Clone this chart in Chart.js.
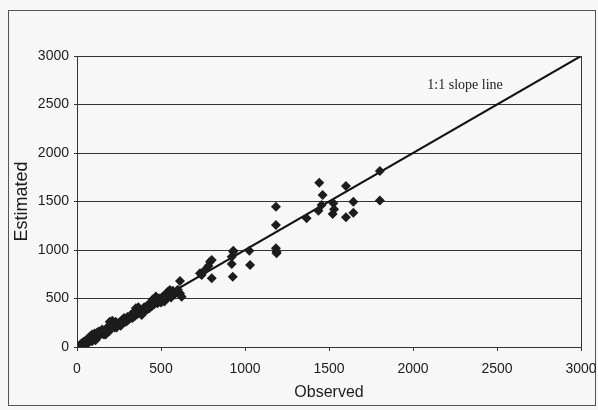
<!DOCTYPE html>
<html>
<head>
<meta charset="utf-8">
<script src="https://cdn.jsdelivr.net/npm/chart.js@4/dist/chart.umd.min.js"></script>
<style>
  html, body { margin: 0; padding: 0; background: #f7f7f7; }
  #wrap { position: relative; width: 598px; height: 410px; }
</style>
</head>
<body>
<div id="wrap"><canvas id="c" width="598" height="410"></canvas></div>
<script>
// Observed vs. estimated values
const observed = [
  20, 30, 35, 40, 45, 50, 55, 60, 65, 70, 75, 80, 85, 90, 95, 100, 105, 110, 115, 120,
  130, 140, 150, 160, 170, 180, 190, 200, 205, 210, 220, 225, 230, 240, 250, 260, 270, 280, 290, 300,
  310, 320, 330, 340, 345, 350, 355, 360, 370, 380, 390, 400, 410, 420, 430, 440, 445, 450, 460, 470,
  480, 490, 500, 510, 520, 530, 540, 550, 560, 570, 580, 524, 553, 613, 613, 623,
  60, 90, 110, 130, 150, 170, 195, 215, 235, 265, 300, 320, 350, 365, 385, 420, 455, 470, 500, 540, 560, 580, 600,
  732, 742, 762, 782, 792, 802, 802, 921, 921, 927, 930, 930, 1026, 1030,
  1184, 1184, 1184, 1188, 1188, 1367, 1437, 1442, 1456, 1462, 1522, 1526, 1530, 1601, 1601, 1645, 1645, 1803, 1803
];
const estimated = [
  25, 40, 20, 55, 35, 60, 45, 80, 50, 95, 60, 110, 70, 130, 100, 85, 140, 120, 95, 150,
  110, 160, 140, 130, 175, 200, 160, 240, 210, 270, 250, 200, 260, 230, 250, 220, 280, 300, 260, 310,
  290, 330, 300, 360, 320, 400, 380, 340, 390, 360, 370, 410, 380, 430, 400, 460, 420, 490, 440, 470,
  450, 500, 480, 520, 470, 540, 510, 560, 530, 580, 540, 502, 588, 680, 553, 519,
  30, 60, 70, 160, 180, 130, 260, 230, 200, 260, 270, 300, 360, 410, 330, 390, 470, 520, 460, 570, 510, 560, 590,
  760, 742, 794, 835, 880, 897, 708, 931, 856, 725, 993, 982, 993, 845,
  1447, 1258, 1017, 966, 982, 1327, 1405, 1694, 1464, 1567, 1371, 1481, 1419, 1660, 1337, 1498, 1385, 1815, 1510
];
// 1:1 reference line endpoints
const slopeX = [0, 3000];
const slopeY = [0, 3000];
const xTicks = [0, 500, 1000, 1500, 2000, 2500, 3000];
const yTicks = [0, 500, 1000, 1500, 2000, 2500, 3000];
const slopeLabel = '1:1 slope line';

const ink = '#1c1c1c';
const font = "'Liberation Sans', Arial, sans-serif";

const framePlugin = {
  id: 'frame',
  beforeDraw(chart) {
    const ctx = chart.ctx;
    ctx.save();
    ctx.fillStyle = '#f7f7f7';
    ctx.fillRect(0, 0, chart.width, chart.height);
    ctx.strokeStyle = '#555';
    ctx.lineWidth = 1;
    ctx.strokeRect(8.5, 10.5, 587, 395);
    ctx.restore();
  },
  afterDatasetsDraw(chart) {
    const ctx = chart.ctx;
    const a = chart.chartArea;
    const xs = chart.scales.x, ys = chart.scales.y;
    ctx.save();
    ctx.strokeStyle = '#333';
    ctx.lineWidth = 1;
    ctx.strokeRect(Math.round(a.left) + 0.5, Math.round(a.top) + 0.5,
      Math.round(a.right - a.left), Math.round(a.bottom - a.top));
    ctx.fillStyle = ink;
    ctx.font = "14px 'Liberation Serif', 'Times New Roman', serif";
    ctx.textAlign = 'center';
    ctx.textBaseline = 'middle';
    ctx.fillText(slopeLabel, xs.getPixelForValue(2310), ys.getPixelForValue(2700));
    ctx.restore();
  }
};

const points = observed.map((x, i) => ({ x: x, y: estimated[i] }));
const linePts = slopeX.map((x, i) => ({ x: x, y: slopeY[i] }));

new Chart(document.getElementById('c'), {
  type: 'scatter',
  data: {
    datasets: [
      {
        data: points,
        pointStyle: 'rectRot',
        pointRadius: 5,
        pointBackgroundColor: ink,
        pointBorderColor: ink,
        pointBorderWidth: 0,
        showLine: false
      },
      {
        data: linePts,
        showLine: true,
        borderColor: '#111',
        borderWidth: 2,
        pointRadius: 0,
        fill: false
      }
    ]
  },
  options: {
    responsive: false,
    animation: false,
    events: [],
    layout: { padding: { left: 11, top: 56, right: 0, bottom: 8 } },
    plugins: { legend: { display: false }, tooltip: { enabled: false } },
    scales: {
      x: {
        type: 'linear',
        min: 0, max: 3000,
        afterBuildTicks: s => { s.ticks = xTicks.map(v => ({ value: v })); },
        afterFit: s => { s.height = 55; s.paddingLeft = 0; s.paddingRight = 17; },
        border: { display: true, color: '#333', width: 1 },
        grid: { drawOnChartArea: false, drawTicks: true, tickLength: 4, color: '#333' },
        ticks: { color: ink, font: { family: font, size: 14 }, padding: 10, maxRotation: 0, callback: v => String(v) },
        title: { display: true, text: 'Observed', color: ink, font: { family: font, size: 16 }, padding: { top: 0, bottom: 0 } }
      },
      y: {
        type: 'linear',
        min: 0, max: 3000,
        afterBuildTicks: s => { s.ticks = yTicks.map(v => ({ value: v })); },
        afterFit: s => { s.width = 66; s.paddingTop = 0; s.paddingBottom = 0; },
        border: { display: true, color: '#333', width: 1 },
        grid: { color: '#333', lineWidth: 1, drawTicks: true, tickLength: 3 },
        ticks: { color: ink, font: { family: font, size: 14 }, padding: 5, callback: v => String(v) },
        title: { display: true, text: 'Estimated', color: ink, font: { family: font, size: 18 }, padding: { top: 0, bottom: 0 } }
      }
    }
  },
  plugins: [framePlugin]
});
</script>
</body>
</html>
